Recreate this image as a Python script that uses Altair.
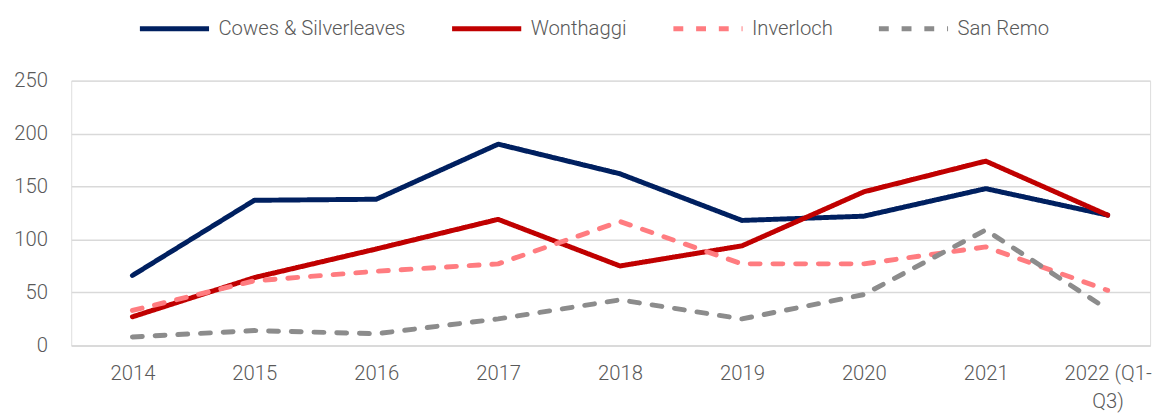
import altair as alt
import pandas as pd

years = ["2014", "2015", "2016", "2017", "2018", "2019", "2020", "2021", "2022 (Q1-\nQ3)"]
series_names = ["Cowes & Silverleaves", "Wonthaggi", "Inverloch", "San Remo"]
cowes = [66, 137, 138, 190, 162, 118, 122, 148, 123]
wonthaggi = [27, 64, 91, 119, 75, 94, 145, 174, 123]
inverloch = [33, 61, 70, 77, 117, 77, 77, 93, 52]
san_remo = [8, 14, 11, 25, 43, 25, 48, 109, 34]
colors = ["#002060", "#C00000", "#FF7C80", "#8C8C8C"]
dashes = [[1, 0], [1, 0], [10, 13], [10, 13]]

rows = []
for name, vals in zip(series_names, [cowes, wonthaggi, inverloch, san_remo]):
    for i, (y, v) in enumerate(zip(years, vals)):
        rows.append({"idx": i, "year": y, "series": name, "value": v})
df = pd.DataFrame(rows)

label_expr = "[" + ",".join(
    "[" + ",".join("'" + p + "'" for p in y.split("\n")) + "]" for y in years
) + "][datum.value]"

FONT = "Roboto"
GRAY = "#595959"
FS = 20.5

legend = alt.Legend(orient="none", legendX=67, legendY=-90,
                    direction="horizontal", title=None,
                    symbolType="stroke", symbolStrokeWidth=5,
                    symbolSize=4900, labelFont=FONT, labelFontWeight=300,
                    labelFontSize=FS, labelColor=GRAY, labelLimit=0,
                    labelOffset=7, columnPadding=36)

chart = alt.Chart(df).mark_line(strokeWidth=5, strokeCap="round", strokeJoin="round").encode(
    x=alt.X("idx:Q",
            scale=alt.Scale(domain=[-0.502, 8.348], nice=False, zero=False),
            axis=alt.Axis(values=list(range(9)), labelExpr=label_expr, title=None,
                          grid=False, ticks=False, domain=True, domainColor="#D9D9D9",
                          domainWidth=1.5, labelFont=FONT, labelFontSize=FS,
                          labelFontWeight=300,
                          labelColor=GRAY, labelPadding=19, labelLineHeight=28)),
    y=alt.Y("value:Q",
            scale=alt.Scale(domain=[0, 250], nice=False),
            axis=alt.Axis(values=[0, 50, 100, 150, 200, 250], title=None, grid=True,
                          gridColor="#D9D9D9", gridWidth=1.5, ticks=False, domain=False,
                          labelFont=FONT, labelFontSize=FS, labelColor=GRAY,
                          labelFontWeight=300, labelPadding=24)),
    color=alt.Color("series:N",
                    scale=alt.Scale(domain=series_names, range=colors),
                    legend=legend),
    strokeDash=alt.StrokeDash("series:N",
                              scale=alt.Scale(domain=series_names, range=dashes),
                              legend=legend),
    detail="series:N",
).properties(
    width=1092, height=268,
    padding={"top": -19, "left": 5, "right": 5, "bottom": 5},
).configure_view(stroke=None).configure(background="white")

chart.save("out.html", embed_options={"renderer": "svg", "actions": False})
